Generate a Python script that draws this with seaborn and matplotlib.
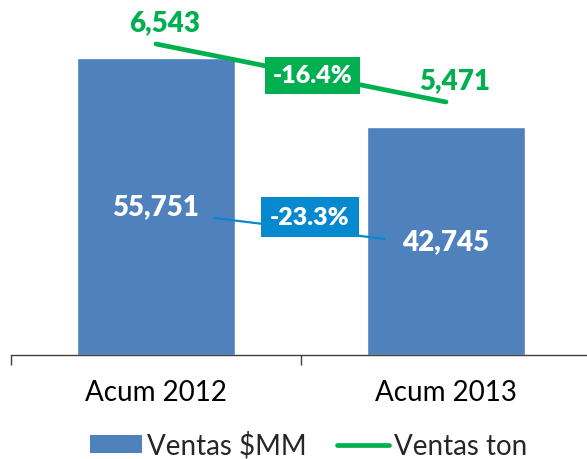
import numpy as np
import pandas as pd
import matplotlib.pyplot as plt
import seaborn as sns
from matplotlib.patches import Patch
from matplotlib.lines import Line2D

periods = ["Acum 2012", "Acum 2013"]
ventas_mm = [55751, 42745]
ventas_ton = [6543, 5471]
series_names = ["Ventas $MM", "Ventas ton"]

BLUE = "#4F81BD"
GREEN = "#00B050"
BOX_BLUE = "#0789CF"

sns.set_style("white")
plt.rcParams['font.family'] = ['Lato', 'DejaVu Sans']

df = pd.DataFrame({"periodo": periods, "mm": ventas_mm, "ton": ventas_ton})
df["pos"] = np.arange(len(df))

fig = plt.figure(figsize=(5.87, 4.6), dpi=100)
ax = fig.add_axes([11 / 587, 104 / 460, 580 / 587, 320 / 460])

# bars - ventas $MM
sns.barplot(data=df, x="periodo", y="mm", color=BLUE, saturation=1,
            width=0.545, ax=ax, zorder=2)
ax.set_xlim(-0.5, 1.5)
ax.set_ylim(0, 60000)
ax.set_xlabel("")
ax.set_ylabel("")
ax.set_yticks([])
for s in ["top", "left", "right"]:
    ax.spines[s].set_visible(False)
ax.spines["bottom"].set_color("#404040")
ax.spines["bottom"].set_linewidth(1)
ax.set_xticks(df["pos"], periods)
ax.set_xticks([-0.5, 0.5, 1.5], minor=True)
ax.tick_params(axis="x", which="major", bottom=True, length=0, pad=17,
               labelsize=20, labelcolor="black")
ax.tick_params(axis="x", which="minor", bottom=True, length=7.2, width=1,
               color="#404040", direction="out")

for i, v in enumerate(ventas_mm):
    ax.text(i, v / 2, f"{v:,}", ha="center", va="center", color="white",
            fontsize=20, fontweight="heavy", zorder=4)

# blue % change box
pct_mm = (ventas_mm[1] - ventas_mm[0]) / ventas_mm[0] * 100
ax.plot([0.2, 0.79], [25700, 21750], color=BOX_BLUE, lw=1.6, zorder=3)
ax.text(0.53, 25900, f"{pct_mm:.1f}%", ha="center", va="center", color="white",
        fontsize=18, fontweight="heavy", zorder=5,
        bbox=dict(boxstyle="square,pad=0.36", fc=BOX_BLUE, ec="none"))

# line - ventas ton on secondary axis
ax2 = ax.twinx()
sns.lineplot(data=df, x="pos", y="ton", color=GREEN, lw=3.4, ax=ax2,
             solid_capstyle="round", zorder=3)
ax2.set_ylim(796, 6709)
ax2.set_xlim(-0.5, 1.5)
ax2.set_yticks([])
ax2.set_ylabel("")
ax2.set_xlabel("")
for s in ax2.spines.values():
    s.set_visible(False)

for i, v in enumerate(ventas_ton):
    ax2.annotate(f"{v:,}", (i, v), xytext=(6.5, 15.5), textcoords="offset points",
                 ha="center", va="center", color=GREEN, fontsize=20, fontweight="heavy")

pct_ton = (ventas_ton[1] - ventas_ton[0]) / ventas_ton[0] * 100
bx = 0.54
by = ventas_ton[0] + bx * (ventas_ton[1] - ventas_ton[0])
ax2.text(bx, by, f"{pct_ton:.1f}%", ha="center", va="center", color="white",
         fontsize=18, fontweight="heavy", zorder=6,
         bbox=dict(boxstyle="square,pad=0.3", fc=GREEN, ec="none"))

handles = [Patch(facecolor=BLUE, edgecolor="none"),
           Line2D([0], [0], color=GREEN, lw=3.4)]
fig.legend(handles, series_names, loc="center", bbox_to_anchor=(0.5256, 0.03),
           ncol=2, frameon=False, fontsize=20, handlelength=1.87, handleheight=0.6,
           handletextpad=0.18, columnspacing=1.08, borderpad=0, borderaxespad=0)

fig.savefig("out.png", dpi=100)
